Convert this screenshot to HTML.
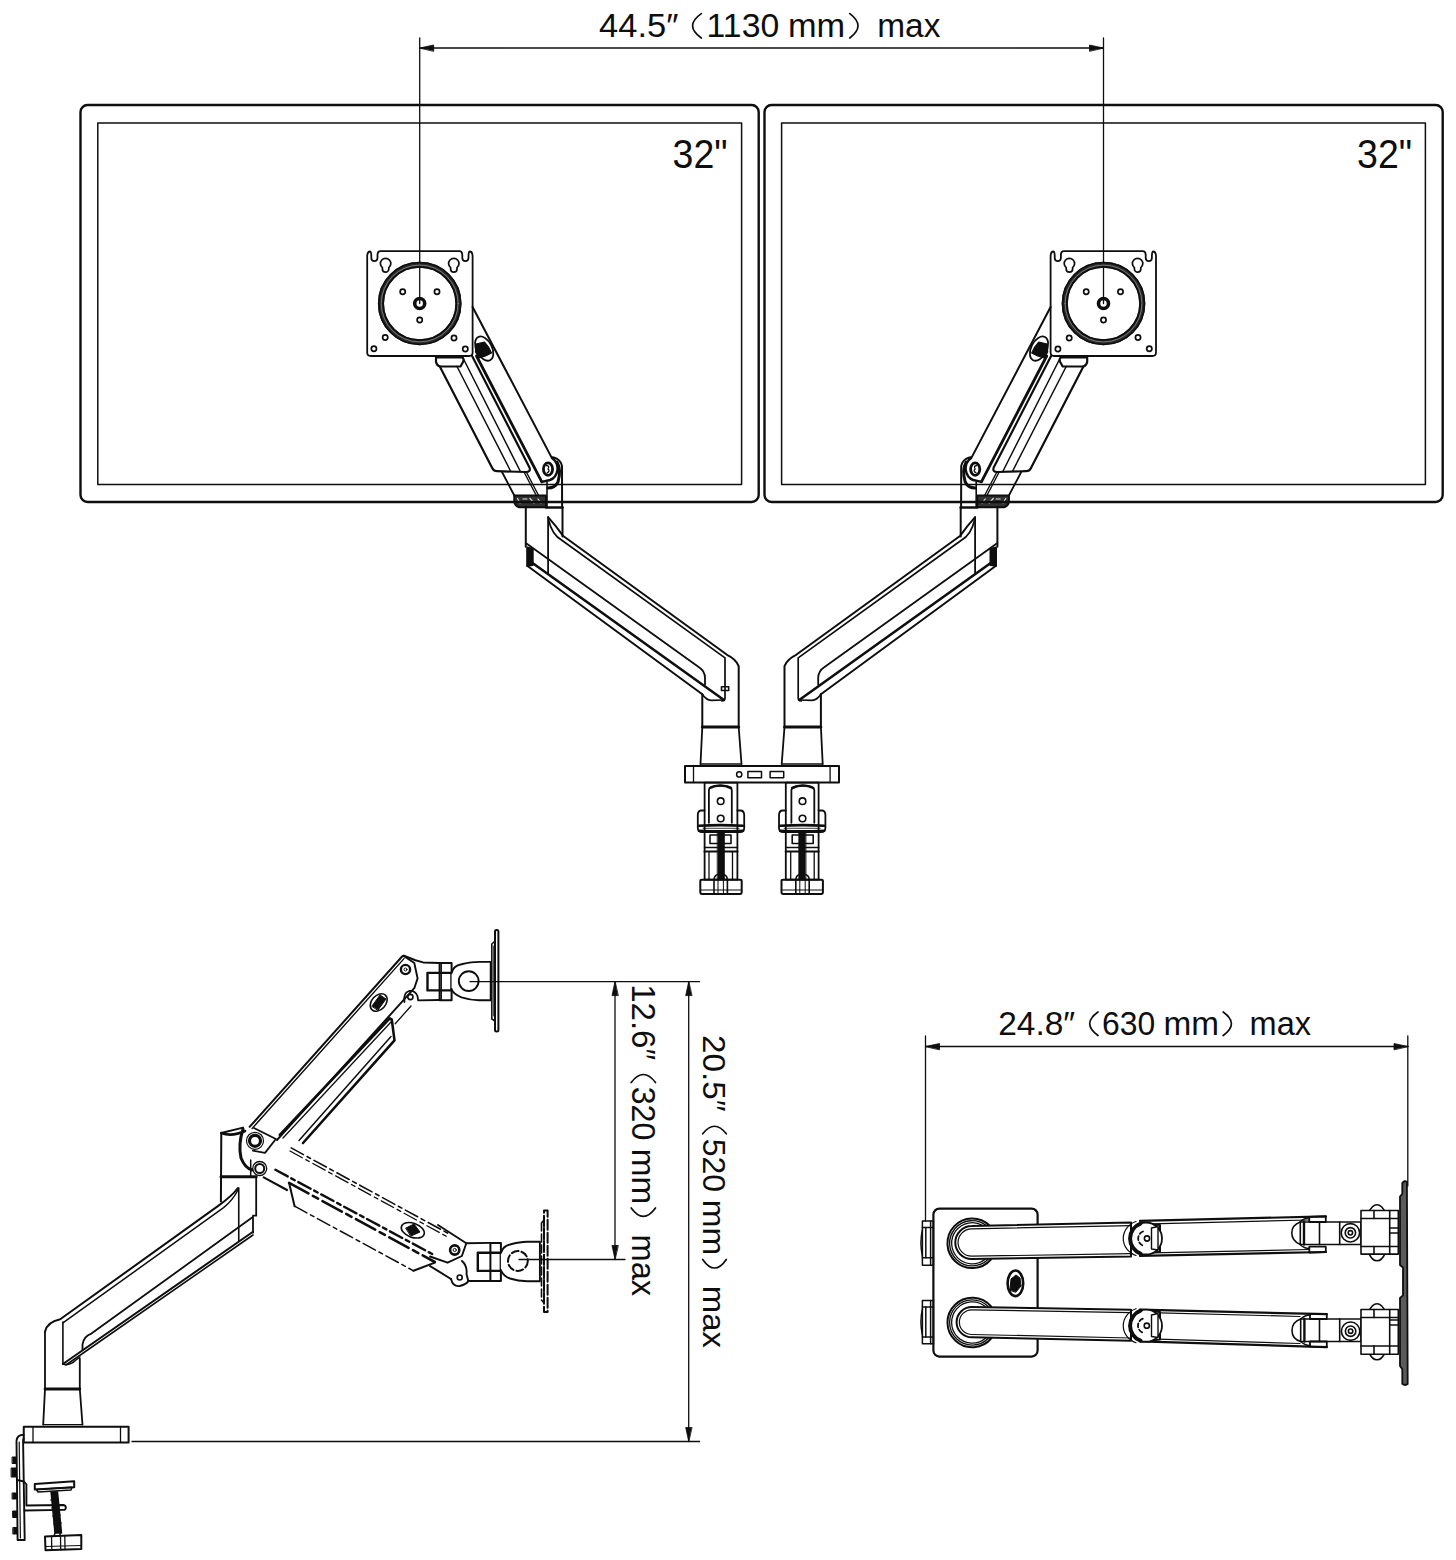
<!DOCTYPE html>
<html><head><meta charset="utf-8">
<style>
html,body{margin:0;padding:0;background:#fff;}
body{width:1456px;height:1560px;overflow:hidden;position:relative;}
svg{position:absolute;left:0;top:0;}
.t{font-family:"Liberation Sans",sans-serif;fill:#0e0e0e;}
</style></head><body>
<svg width="1456" height="1560" viewBox="0 0 1456 1560">
<g fill="none" stroke="#0e0e0e" stroke-linejoin="round" stroke-linecap="round">
<!-- TOP DIM -->
<line x1="419.7" y1="48" x2="1103.5" y2="48" stroke-width="1.3"/>
<path d="M419.7 48 l14 -3 v6 z M1103.5 48 l-14 -3 v6 z" fill="#0e0e0e" stroke-width="0.8"/>
<g id="L">
<line x1="419.7" y1="38" x2="419.7" y2="303.5" stroke-width="1.3"/>
<!-- VESA plate -->
<path d="M367.2 352.5 L367.2 256 Q367.4 251.5 370.2 251.5 Q371.3 252 371.3 256 L371.3 258 Q371.5 261.2 374.4 261.2 Q377.3 261.2 377.5 258 L377.5 254.5 Q377.8 251.2 380.5 251.2 L459.3 251.2 Q462 251.2 462.3 254.5 L462.3 258 Q462.5 261.2 465.4 261.2 Q468.3 261.2 468.5 258 L468.5 256 Q468.5 252 469.6 251.5 Q472.4 251.5 472.6 256 L472.6 352.5 Q472.6 356 469 356 L370.8 356 Q367.2 356 367.2 352.5 Z" stroke-width="1.8"/>
<circle cx="419.7" cy="303.5" r="38.8" stroke="#2a2a2a" stroke-width="6"/>
<circle cx="419.7" cy="303.5" r="41" stroke-width="1.7"/>
<circle cx="419.7" cy="303.5" r="36.6" stroke-width="1.9"/>
<circle cx="419.7" cy="303.5" r="38.4" stroke="#8a8a8a" stroke-width="0.8"/>
<circle cx="419.7" cy="303.5" r="5" stroke-width="3.6"/>
<g stroke-width="1.7">
<circle cx="402.7" cy="291.7" r="2.6"/>
<circle cx="437" cy="291.7" r="2.6"/>
<circle cx="419.7" cy="320" r="2.6"/>
<circle cx="385.2" cy="337.5" r="2.6"/>
<circle cx="454" cy="338" r="2.6"/>
<circle cx="373.9" cy="348.8" r="2.6"/>
<circle cx="465.3" cy="349" r="2.6"/>
<path d="M382.4 267.6 A5.2 5.2 0 1 1 388.8 267.6 L388.8 269 A3.2 3.2 0 0 1 382.4 269 Z"/>
<path d="M450.6 267.6 A5.2 5.2 0 1 1 457 267.6 L457 269 A3.2 3.2 0 0 1 450.6 269 Z"/>
</g>
<!-- upper arm -->
<path d="M436 357.5 L462 357.5 Q464.5 358.5 463 362 L460.5 366.5 L440 366.5 Q437 366 436 362 Z" stroke-width="2.2"/>
<path d="M439.8 366.5 L491.7 467 Q493.5 471.2 497 471.2 L526 472 Q531 472 529.5 467.5 L472.1 356" stroke-width="2.2"/>
<line x1="457" y1="366.5" x2="510.8" y2="471.5" stroke-width="1.5"/>
<line x1="462.5" y1="357" x2="520.4" y2="471.5" stroke-width="1.5"/>
<line x1="476.5" y1="356" x2="541.8" y2="481.8" stroke-width="2.8"/>
<path d="M472.6 307 L551.4 457.1 Q558 458 561 463 L562 466 L562.1 508" stroke-width="2"/>
<path d="M541.8 481.8 L550 480 Q556 478 557.5 470 Q558 462 552 458" stroke-width="2.4"/>
<ellipse cx="548" cy="469.1" rx="4.6" ry="6.2" stroke-width="2.8"/><path d="M546.5 465.5 Q550 466 548 469 Q550.5 471 547 473" stroke-width="1.3"/>
<path d="M557 462 Q561.5 470 558 482 Q555 488 548 488" stroke-width="3"/>
<line x1="547" y1="482" x2="547" y2="507" stroke-width="1.6"/>
<line x1="502" y1="472" x2="514.3" y2="495.5" stroke-width="1.8"/>
<line x1="524" y1="472" x2="536.3" y2="495.5" stroke-width="1.4"/>
<line x1="526.3" y1="472" x2="538.6" y2="495.5" stroke-width="1.4"/>
<path d="M514.3 495.5 L546 495.5 L546 507.2 L519 507.2 Q515 506 514.3 502 Z" fill="#333" stroke-width="2"/><path d="M517.5 498.5 L520 503 M523 499 L527 499 M530 498.5 L534 503 M538 499 L541 503" stroke="#ddd" stroke-width="1.2"/>
<line x1="546" y1="507.5" x2="562.5" y2="507.5" stroke-width="2.6"/>
<ellipse cx="484.2" cy="348.6" rx="7.8" ry="13" transform="rotate(-27 484.2 348.6)" fill="#fff" stroke-width="1.8"/>
<path d="M476 344 L484.5 342 L488.5 347 L491.5 353 L485.5 356 L479 358 L475.5 352 Z" fill="#0e0e0e" stroke-width="1.2"/>
<!-- lower arm -->
<path d="M525.8 507.5 L525.8 546.7" stroke-width="2"/>
<path d="M562.5 507 L562.5 536.4" stroke-width="2"/>
<line x1="548.1" y1="517.2" x2="548.1" y2="572.8" stroke-width="1.8"/>
<path d="M548.1 517.2 Q556 526 562.9 535.7 L727 654.8 Q736 659 738.7 666.1 L738.7 726.5" stroke-width="2"/>
<path d="M548.6 520 Q552 535 562.2 540.5 L725 657.9 L725 698 Q725 701 722 701" stroke-width="1.7"/>
<path d="M526.5 543.5 L699 667.2 Q705 671 705 678 L705 684.6" stroke-width="1.8"/>
<path d="M532.5 563 L723.6 699.8" stroke-width="2.6"/>
<path d="M527.2 565.8 L702.3 694.3" stroke-width="2"/>
<path d="M527.2 547.4 L532.7 549 L532.7 565 L527.2 565.8 Z" fill="#0e0e0e" stroke-width="2"/>
<path d="M702.3 694.3 Q706 700 711.2 700.4 L723.6 700" stroke-width="1.6"/>
<line x1="702.3" y1="694.3" x2="702.3" y2="726.9" stroke-width="2"/>
<line x1="702.3" y1="726.9" x2="738.7" y2="726.9" stroke-width="3"/>
<line x1="702.3" y1="727" x2="700.5" y2="764" stroke-width="1.8"/>
<line x1="738.7" y1="727" x2="741.5" y2="764" stroke-width="1.8"/>
<line x1="700.5" y1="764" x2="741.5" y2="764" stroke-width="1.5"/>
<!-- clamp -->
<rect x="704.6" y="782.6" width="32.8" height="97" stroke-width="1.8"/>
<path d="M708.9 822.8 L708.9 790 Q708.9 785.7 720.3 785.7 Q731.8 785.7 731.8 790 L731.8 822.8" stroke-width="1.8"/>
<path d="M710 788 Q720 783 731 788" stroke-width="2.5"/>
<circle cx="720.7" cy="801.2" r="3.3" stroke-width="1.6"/>
<circle cx="720.7" cy="818.5" r="3.3" stroke-width="1.6"/>
<path d="M704.6 810.5 L701 810.5 Q697.8 811 697.8 815 L697.8 828 Q698 832.1 702 832.1 L740 832.1 Q744.2 832 744.2 828 L744.2 815 Q744 810.5 740.5 810.5 L737.4 810.5" stroke-width="1.8"/>
<path d="M699 825.8 Q720 824.5 743 825.8" stroke-width="2.6"/><path d="M699 830.8 Q720 832 743 830.8" stroke-width="2.6"/><line x1="703" y1="828.3" x2="739" y2="828.3" stroke-width="0.8"/>
<rect x="710" y="835" width="21" height="8.5" stroke-width="1.6"/>
<rect x="717.6" y="832" width="6.8" height="47" fill="#0e0e0e" stroke-width="0.8"/>
<line x1="704.6" y1="847.5" x2="737.4" y2="847.5" stroke-width="1.6"/>
<line x1="704.6" y1="851.5" x2="737.4" y2="851.5" stroke-width="2.2"/>
<line x1="709" y1="852" x2="709" y2="879" stroke-width="1.3"/>
<line x1="732.5" y1="852" x2="732.5" y2="879" stroke-width="1.3"/>
<path d="M700.3 881 Q700.3 879.7 702 879.7 L740 879.7 Q741.7 879.7 741.7 881 L741.7 892 Q741.7 893.9 740 893.9 L702 893.9 Q700.3 893.9 700.3 892 Z" stroke-width="2"/>
<path d="M714 893 L714 880 Q714 874 720.7 874 Q727.4 874 727.4 880 L727.4 893" stroke-width="1.6"/>
<line x1="718" y1="880" x2="718" y2="893" stroke-width="1"/>
<line x1="723.4" y1="880" x2="723.4" y2="893" stroke-width="1"/>
<line x1="701" y1="890" x2="741" y2="890" stroke-width="1"/>
<!-- monitor -->
<rect x="80.5" y="105" width="678.2" height="397" rx="7" stroke-width="2.4"/>
<rect x="97.8" y="123" width="643.8" height="361.5" stroke-width="1.5"/>
</g>
<use href="#L" transform="translate(1523.2,0) scale(-1,1)"/>
<rect x="721.5" y="686.7" width="7.2" height="3.8" stroke-width="1.6"/>
<!-- base plate -->
<rect x="685" y="766" width="154" height="16.6" stroke-width="2"/>
<line x1="693.5" y1="766" x2="693.5" y2="782.6" stroke-width="1.3"/>
<line x1="830.1" y1="766" x2="830.1" y2="782.6" stroke-width="1.3"/>
<circle cx="739.2" cy="774.4" r="2.6" stroke-width="1.5"/>
<rect x="747.9" y="771.5" width="13.6" height="6.2" stroke-width="1.5"/>
<rect x="770.1" y="771.5" width="13.6" height="6.2" stroke-width="1.5"/>

<!-- ================= SIDE VIEW ================= -->
<g id="side">
<!-- base plate -->
<rect x="23.75" y="1426.8" width="104.85" height="15.7" stroke-width="2"/>
<line x1="33" y1="1427" x2="33" y2="1442.5" stroke-width="1.3"/>
<line x1="120.5" y1="1427" x2="120.5" y2="1442.5" stroke-width="1.3"/>
<!-- post -->
<path d="M43.2 1424.6 L45 1389 L45 1331.8" stroke-width="1.8"/>
<path d="M82.5 1424.6 L79.8 1389 L79.8 1358.6" stroke-width="1.8"/>
<line x1="45" y1="1389" x2="79.8" y2="1389" stroke-width="2.8"/>
<line x1="43.2" y1="1424.6" x2="82.5" y2="1424.6" stroke-width="1.3"/>
<!-- lower arm fixed -->
<path d="M45 1331.8 Q47 1322 60.2 1319.3 L218.2 1205.9 Q232 1196 237.9 1188" stroke-width="2"/>
<path d="M62.9 1322.9 L223.6 1207.7 Q233 1200 237.9 1190" stroke-width="1.5"/>
<line x1="62.9" y1="1322" x2="62.9" y2="1364" stroke-width="1.6"/>
<line x1="238.75" y1="1188" x2="238.75" y2="1240.7" stroke-width="1.6"/>
<path d="M82.5 1350 L82.5 1344.3 Q84 1336 91.4 1333.6 L252.1 1217.5" stroke-width="1.8"/>
<path d="M62.9 1364 L253 1231.8" stroke-width="2"/>
<path d="M66 1365 L253 1235" stroke-width="1.6"/>
<path d="M62.9 1364 Q70 1366 76 1360 L80 1357" stroke-width="1.5"/>
<!-- column -->
<path d="M220.9 1201.4 L221.3 1133 L243 1127.6" stroke-width="2"/>
<path d="M221.3 1133 Q232 1137 245 1131" stroke-width="2.6"/>
<line x1="221" y1="1176.8" x2="256.2" y2="1176.8" stroke-width="3"/>
<path d="M256.2 1177 L256.2 1215.7 L253 1215.7 L253 1232.7" stroke-width="1.8"/>
<path d="M250.7 1160 L250.7 1177" stroke-width="1.5"/>
<path d="M243 1129 Q238 1145 241 1158 Q245 1168 252 1170" stroke-width="3"/>
<!-- upper arm -->
<path d="M249.6 1126.8 L402.1 956.5 L404 955.8 L415.4 960.2 L423.1 962.4 L439.6 963" stroke-width="2"/>
<line x1="252" y1="1128.6" x2="404" y2="958.6" stroke-width="1.4"/>
<path d="M254 1128 L275.9 1139 L265 1152.9 L252.9 1150.7" stroke-width="1.8"/>
<path d="M403.3 955.8 L414.3 963 L417.6 978.4 L414.3 988.2 L277 1140" stroke-width="1.9"/>
<circle cx="255" cy="1140.8" r="5.5" stroke-width="3.2"/>
<circle cx="255" cy="1140.8" r="8.5" stroke-width="1.2"/>
<circle cx="259.7" cy="1168.5" r="4.5" stroke-width="2"/>
<circle cx="259.7" cy="1168.5" r="7" stroke-width="1.3"/>
<circle cx="405.5" cy="969.5" r="4.6" stroke-width="2.4"/>
<circle cx="405.5" cy="969.5" r="1.5" stroke-width="1"/>
<path d="M404.5 1002 Q403 993 409 991 Q415 990 417.5 996 L418.1 1000.3 L439.6 1000" stroke-width="1.8"/>
<circle cx="410.4" cy="997" r="2.6" stroke-width="1.6"/>
<line x1="395.2" y1="1023.8" x2="411" y2="1006" stroke-width="1.3"/>
<path d="M279.8 1135 L389.7 1018.3 L391.8 1019.7 L394.5 1040.3 L303 1143" stroke-width="2.6"/>
<line x1="283" y1="1138" x2="391" y2="1022" stroke-width="1.3"/>
<line x1="391" y1="1036.5" x2="299" y2="1140.5" stroke-width="1.5"/>
<ellipse cx="378.7" cy="1002.5" rx="10" ry="7" transform="rotate(-48 378.7 1002.5)" stroke-width="1.6"/>
<path d="M372 1006 L380 995 L386 999 L378 1010 Z" fill="#0e0e0e" stroke-width="1"/>
<!-- upper head -->
<rect x="439.6" y="963" width="12" height="37.3" stroke-width="2"/>
<rect x="427.5" y="972.9" width="24.1" height="17.5" stroke-width="2.4"/>
<line x1="441.2" y1="963" x2="441.2" y2="1000.3" stroke-width="1.5"/>
<path d="M451.6 973 Q453 966 461.5 964.3 Q472 961.9 479 961.9 L490.7 961.9 L490.7 1000.3 L479 1000.3 Q470 1000 461.5 997.3 Q453 994 451.6 989" fill="#fff" stroke-width="1.9"/>
<circle cx="468.7" cy="981.1" r="9.9" stroke-width="1.9"/>
<path d="M491.8 1019 L491.8 944 L495 941 L495 1021 Z" stroke-width="1.5"/>
<rect x="495" y="930" width="3.4" height="101.6" rx="1.5" stroke-width="2"/>
<line x1="493.4" y1="946" x2="493.4" y2="1016" stroke-width="0.8"/>
<!-- lower dashed arm -->
<g stroke-dasharray="14 4 4 4">
<line x1="291.2" y1="1147.9" x2="450" y2="1234.4" stroke-width="1.6"/>
<line x1="290" y1="1151" x2="448" y2="1237.2" stroke-width="1.3"/>
<line x1="275.4" y1="1169.8" x2="434" y2="1255" stroke-width="2.4"/>
<line x1="294.6" y1="1206.2" x2="413.5" y2="1270.8" stroke-width="1.5"/>
</g>
<path d="M289.1 1182.9 L434.8 1262" stroke-width="2.6" stroke-dasharray="22 5 6 5"/>
<path d="M289.1 1182.9 L294.6 1206.2" stroke-width="2"/>
<path d="M413.5 1270.8 L434.8 1262.6" stroke-width="2"/>
<line x1="263.7" y1="1177.4" x2="287" y2="1190" stroke-width="2.2"/>
<path d="M438 1225 L466.3 1243.3 L490.4 1242.9" stroke-width="1.9"/>
<path d="M466.3 1243.3 L461.9 1256 L447.6 1262.7 L430 1256.5" stroke-width="1.9"/>
<line x1="430" y1="1266" x2="451" y2="1279" stroke-width="2"/>
<circle cx="454.7" cy="1250" r="4.6" stroke-width="2.6"/>
<circle cx="454.7" cy="1250" r="1.6" stroke-width="1"/>
<path d="M451 1279 Q453 1287 459.7 1286 Q467 1284 468.3 1281 L490.4 1281" stroke-width="1.9"/>
<path d="M462 1261 Q467.5 1266 466.5 1274 L468.3 1281" stroke-width="1.9"/>
<circle cx="459.7" cy="1277.5" r="2.5" stroke-width="1.6"/>
<ellipse cx="412.8" cy="1230.3" rx="12" ry="7" transform="rotate(20 412.8 1230.3)" stroke-width="1.6"/>
<path d="M406 1228 L414 1224 L420 1232 L411 1236 Z" fill="#0e0e0e" stroke-width="1"/>
<rect x="490.4" y="1242.9" width="10.5" height="38" stroke-width="2"/>
<rect x="477.8" y="1252.7" width="23.1" height="18.2" stroke-width="2.4"/>
<path d="M500.9 1253 Q503 1246 510 1244.5 Q520 1241.8 527 1241.8 L539.9 1241.8 L539.9 1281.3 L527 1281.3 Q518 1281 510 1278.5 Q503 1276 500.9 1270" fill="#fff" stroke-width="1.9"/>
<circle cx="517.9" cy="1261" r="9.9" stroke-width="2" stroke-dasharray="7 3"/>
<path d="M541.5 1223 L541.5 1300 L544 1303 L544 1220 Z" stroke-width="1.6" stroke-dasharray="8 3"/>
<rect x="544" y="1210.4" width="3.6" height="101.6" stroke-width="2" stroke-dasharray="10 3"/>
<!-- clamp -->
<path d="M23.75 1434.8 Q17 1434.8 16.5 1441 L17.6 1540 L24.7 1540 L23.1 1442 Q23.2 1438.3 23.75 1438.3" stroke-width="1.9"/>
<line x1="19.2" y1="1442" x2="20.4" y2="1538" stroke-width="1.2"/>
<g fill="#0e0e0e" stroke-width="1">
<rect x="12.5" y="1457" width="4" height="6.5"/><rect x="11.5" y="1468" width="5" height="9"/>
<rect x="12.5" y="1493" width="4.2" height="6"/><rect x="13" y="1511" width="4.2" height="6.5"/>
<rect x="13.2" y="1527.5" width="4.2" height="6.5"/>
</g>
<path d="M17 1480 L24 1481.5 L26.4 1484.5 L26.4 1505.5 L63.5 1505 Q65.8 1505.5 65.8 1507.5 Q65.8 1510 63.5 1509.9 L24.5 1510.5" stroke-width="1.9"/>
<path d="M51.1 1492 L57.5 1492 L61.5 1533 L55 1533 Z" fill="#0e0e0e" stroke-width="1.5"/>
<path d="M50.5 1500 L58.5 1499 M51.5 1508 L59.5 1507 M52.5 1516 L60.5 1515 M53.5 1524 L61.5 1523" stroke-width="1" stroke="#0e0e0e"/>
<path d="M34.8 1484 L74.2 1481.3 L74.2 1487.2 L34.8 1489.5 Z" stroke-width="2"/>
<path d="M36.5 1489.5 L72 1487.3 L71 1490 L38 1492 Z" stroke-width="1.5"/>
<path d="M55 1533 L54 1536 M60 1533 L60 1536" stroke-width="1.5"/>
<path d="M45 1536.5 L81.3 1535 L81.3 1549 L45.5 1550.2 Z" stroke-width="2"/>
<line x1="51.5" y1="1536" x2="51.8" y2="1550" stroke-width="1.3"/>
<line x1="60.5" y1="1535.8" x2="60.7" y2="1549.8" stroke-width="1.3"/>
<line x1="64.8" y1="1535.6" x2="65" y2="1549.6" stroke-width="1.3"/>
<line x1="45.5" y1="1546.5" x2="81" y2="1545.5" stroke-width="1"/>
<!-- dims -->
<line x1="470" y1="981.6" x2="699.6" y2="981.6" stroke-width="1.3"/>
<line x1="519" y1="1259.5" x2="625" y2="1259.5" stroke-width="1.3"/>
<line x1="132" y1="1441.5" x2="699.6" y2="1441.5" stroke-width="1.3"/>
<line x1="615" y1="981.6" x2="615" y2="1259.5" stroke-width="1.3"/>
<line x1="688.7" y1="981.6" x2="688.7" y2="1441.5" stroke-width="1.3"/>
<path d="M615 981.6 l-3 14 h6 z M615 1259.5 l-3 -14 h6 z M688.7 981.6 l-3 14 h6 z M688.7 1441.5 l-3 -14 h6 z" fill="#0e0e0e" stroke-width="0.8"/>
</g>

<!-- ================= TOP VIEW ================= -->
<g id="topv">
<line x1="925.5" y1="1046.5" x2="1408" y2="1046.5" stroke-width="1.3"/>
<path d="M925.5 1046.5 l14 -3 v6 z M1408 1046.5 l-14 -3 v6 z" fill="#0e0e0e" stroke-width="0.8"/>
<line x1="925.5" y1="1036" x2="925.5" y2="1221.3" stroke-width="1.3"/>
<line x1="1407.8" y1="1036" x2="1407.8" y2="1186" stroke-width="1.3"/>
<rect x="933.4" y="1208.6" width="104.2" height="148" rx="6" stroke-width="2.2"/>
<g stroke-width="1.5">
<rect x="922.4" y="1221" width="11" height="44.2"/>
<line x1="922.4" y1="1227.5" x2="933.4" y2="1227.5"/><line x1="922.4" y1="1257.7" x2="933.4" y2="1257.7"/>
<line x1="925.8" y1="1227.5" x2="925.8" y2="1257.7"/><line x1="930.6" y1="1221" x2="930.6" y2="1265"/>
<path d="M922.4 1230 Q919.5 1243 922.4 1256"/>
<rect x="922.4" y="1300.6" width="11" height="43.2"/>
<line x1="922.4" y1="1307" x2="933.4" y2="1307"/><line x1="922.4" y1="1337" x2="933.4" y2="1337"/>
<line x1="925.8" y1="1307" x2="925.8" y2="1337"/><line x1="930.6" y1="1300.6" x2="930.6" y2="1343.8"/>
<path d="M922.4 1309 Q919.5 1322 922.4 1335"/>
</g>
<ellipse cx="1015.4" cy="1283.3" rx="7.8" ry="12.8" stroke-width="2.6"/>
<path d="M1010 1290 L1011 1279 L1016 1275 L1020 1278 L1021 1286 L1016 1292 Z" fill="#0e0e0e" stroke-width="1"/>
<!-- upper arm -->
<path d="M989.4 1225.5 A24.75 24.75 0 1 0 990.9 1259.5" stroke-width="2.0"/>
<path d="M986.2 1225.5 A22.6 22.6 0 1 0 987.9 1259.5" stroke-width="1.3"/>
<path d="M982.7 1225.5 A20.6 20.6 0 1 0 984.9 1259.5" stroke-width="1.3"/>
<path d="M1131 1222.5 L971.75 1226.1 A16.45 16.45 0 0 0 971.75 1259 L1131 1256.5 Z" fill="#fff" stroke-width="2"/>
<path d="M1131 1225.6 L971.75 1228.8 A13.7 13.7 0 0 0 971.75 1256.2 L1131 1253.6" stroke-width="1.2"/>
<path d="M1140 1220.9 L1325.9 1216.4 L1325.9 1252 L1140 1255.9 Z" fill="#fff" stroke="none"/><path d="M1140 1220.9 L1325.9 1216.4 M1325.9 1252 L1140 1255.9" stroke-width="2.2"/>
<path d="M1151.5 1223.8 L1309 1220 M1151.5 1252.8 L1309 1249.5" stroke-width="1.2"/>
<path d="M1146 1224 L1160 1225 L1160 1251.5 L1146 1253" fill="#fff" stroke-width="2"/>
<circle cx="1146" cy="1238.5" r="16" fill="#fff" stroke-width="1.8"/>
<path d="M1140.5 1223.5 A16 16 0 0 0 1140.5 1253.5" stroke-width="4"/>
<path d="M1136 1221.5 A19 18 0 0 0 1136 1255.5" stroke-width="1.2"/>
<path d="M1151.5 1228 L1158 1226.5 L1158 1250 L1151.5 1249 Z" fill="#fff" stroke-width="1.4"/>
<circle cx="1147" cy="1238.5" r="2.6" stroke-width="1.6"/>
<path d="M1143 1231.5 A7.5 7.5 0 0 0 1143 1245.5" stroke-width="1.8" stroke-dasharray="4 2.5"/>
<!-- upper end piece -->
<g stroke-width="1.6">
<path d="M1309.3 1216.8 L1325.8 1216.4 L1325.8 1222 L1309.3 1222 Z" stroke-width="1.8"/><path d="M1300 1222 Q1304 1218 1309.3 1218" stroke-width="1.3"/>
<path d="M1309.3 1246.7 L1325.8 1246.7 L1325.8 1252.2 L1309.3 1252.6 Z" stroke-width="1.8"/><path d="M1300 1244.5 Q1304 1248.5 1309.3 1248.5" stroke-width="1.3"/>
<path d="M1300.3 1222 Q1291.8 1225 1291.8 1233 Q1291.8 1241 1300.3 1244.5"/>
<rect x="1300.3" y="1222" width="60.7" height="22.5"/>
<line x1="1304" y1="1222" x2="1304" y2="1244.5" stroke-width="2.4"/>
<line x1="1319.5" y1="1222" x2="1319.5" y2="1244.5"/>
<line x1="1339.7" y1="1222" x2="1339.7" y2="1244.5"/>
<circle cx="1350.4" cy="1232.8" r="9.2"/>
<circle cx="1350.4" cy="1232.8" r="5.2"/>
<circle cx="1350.4" cy="1232.8" r="2.2"/>
<ellipse cx="1377" cy="1232.8" rx="12" ry="28"/>
<rect x="1361" y="1210.5" width="37.3" height="43.6" fill="#fff"/>
<line x1="1361" y1="1218.5" x2="1398.3" y2="1218.5"/>
<line x1="1361" y1="1246.5" x2="1398.3" y2="1246.5"/>
<line x1="1374" y1="1210.5" x2="1374" y2="1218.5"/>
<line x1="1374" y1="1246.5" x2="1374" y2="1254.1"/>
<line x1="1389.7" y1="1210.5" x2="1389.7" y2="1254.1"/>
<line x1="1389.7" y1="1228" x2="1398.3" y2="1228"/>
<line x1="1389.7" y1="1233" x2="1398.3" y2="1233"/>
</g>
<!-- lower arm -->
<path d="M991.1 1306.5 A24.75 24.75 0 1 0 991.5 1338" stroke-width="2.0"/>
<path d="M988.2 1306.5 A22.6 22.6 0 1 0 988.6 1338" stroke-width="1.3"/>
<path d="M985.2 1306.5 A20.6 20.6 0 1 0 985.8 1338" stroke-width="1.3"/>
<path d="M1131 1309.8 L971.75 1307 A15.15 15.15 0 0 0 971.75 1337.3 L1131 1340.8 Z" fill="#fff" stroke-width="2"/>
<path d="M1131 1312.6 L971.75 1309.8 A12.35 12.35 0 0 0 971.75 1334.5 L1131 1338" stroke-width="1.2"/>
<path d="M1140 1309.6 L1326.8 1314.2 L1326.8 1347.1 L1140 1341.3 Z" fill="#fff" stroke="none"/><path d="M1140 1309.6 L1326.8 1314.2 M1326.8 1347.1 L1140 1341.3" stroke-width="2.2"/>
<path d="M1150 1312.6 L1300 1316.5 M1150 1338.8 L1300 1343.5" stroke-width="1.2"/>
<path d="M1146 1311 L1160 1312 L1160 1339.5 L1146 1341" fill="#fff" stroke-width="2"/>
<circle cx="1146" cy="1325.7" r="16" fill="#fff" stroke-width="1.8"/>
<path d="M1140.5 1310.7 A16 16 0 0 0 1140.5 1340.7" stroke-width="4"/>
<path d="M1136 1308.7 A19 18 0 0 0 1136 1342.7" stroke-width="1.2"/>
<path d="M1151.5 1315 L1158 1313.5 L1158 1337.5 L1151.5 1336.5 Z" fill="#fff" stroke-width="1.4"/>
<circle cx="1146.8" cy="1325.7" r="2.6" stroke-width="1.6"/>
<path d="M1142.8 1318.7 A7.5 7.5 0 0 0 1142.8 1332.7" stroke-width="1.8" stroke-dasharray="4 2.5"/>
<g stroke-width="1.6">
<path d="M1310 1313.8 L1326.8 1314.2 L1326.8 1319 L1310 1319 Z" stroke-width="1.8"/><path d="M1300.7 1319 Q1305 1315 1310 1315" stroke-width="1.3"/>
<path d="M1310 1341.5 L1326.8 1341.5 L1326.8 1347.1 L1310 1346.6 Z" stroke-width="1.8"/><path d="M1300.7 1341.5 Q1305 1345.5 1310 1345.5" stroke-width="1.3"/>
<path d="M1300.7 1319 Q1292 1322 1292 1330.5 Q1292 1339 1300.7 1341.5"/>
<rect x="1300.7" y="1319" width="60.3" height="22.5"/>
<line x1="1304.4" y1="1319" x2="1304.4" y2="1341.5" stroke-width="2.4"/>
<line x1="1319.5" y1="1319" x2="1319.5" y2="1341.5"/>
<line x1="1339.7" y1="1319" x2="1339.7" y2="1341.5"/>
<circle cx="1350.6" cy="1331.2" r="9.2"/>
<circle cx="1350.6" cy="1331.2" r="5.2"/>
<circle cx="1350.6" cy="1331.2" r="2.2"/>
<ellipse cx="1377" cy="1331.8" rx="12" ry="28"/>
<rect x="1361" y="1309.5" width="37.3" height="44.7" fill="#fff"/>
<line x1="1361" y1="1317.5" x2="1398.3" y2="1317.5"/>
<line x1="1361" y1="1346" x2="1398.3" y2="1346"/>
<line x1="1374" y1="1309.5" x2="1374" y2="1317.5"/>
<line x1="1374" y1="1346" x2="1374" y2="1354.2"/>
<line x1="1389.7" y1="1309.5" x2="1389.7" y2="1354.2"/>
<line x1="1389.7" y1="1320" x2="1398.3" y2="1320"/>
<line x1="1389.7" y1="1325" x2="1398.3" y2="1325"/>
</g>
<!-- plates -->
<path d="M1402.3 1183 Q1404.6 1180 1406.9 1182 L1407.7 1384 Q1405 1386 1402.3 1383.8 L1402.3 1369.2 L1400 1366 L1400 1298 L1403 1295.4 L1403 1267.7 L1400 1265 L1400 1196.5 L1402.3 1193.8 Z" fill="#5a5a5a" stroke-width="1.8"/>
</g>
</g>
<g class="t">
<g font-size="33.4"><text transform="translate(599.07 37.1) scale(1.033 1)" x="0" y="0">44.5″</text>
<text transform="translate(706.57 37.1) scale(1.012 1)" x="0" y="0">1130</text>
<text transform="translate(787.94 37.1) scale(1.027 1)" x="0" y="0">mm</text>
<text transform="translate(877.30 37.1) scale(1.000 1)" x="0" y="0">max</text></g>
<g font-size="32.8"><text transform="translate(998.27 1035) scale(1.019 1)" x="0" y="0">24.8″</text>
<text transform="translate(1102.05 1035) scale(0.971 1)" x="0" y="0">630</text>
<text transform="translate(1163.57 1035) scale(1.016 1)" x="0" y="0">mm</text>
<text transform="translate(1249.51 1035) scale(0.993 1)" x="0" y="0">max</text></g>
<g transform="translate(632 0) rotate(90)"><g font-size="32.3"><text transform="translate(984.14 0) scale(1.024 1)" x="0" y="0">12.6″</text>
<text transform="translate(1086.70 0) scale(0.998 1)" x="0" y="0">320</text>
<text transform="translate(1148.63 0) scale(1.034 1)" x="0" y="0">mm</text>
<text transform="translate(1234.58 0) scale(1.009 1)" x="0" y="0">max</text></g></g>
<g transform="translate(703 0) rotate(90)"><g font-size="32.0"><text transform="translate(1035.04 0) scale(1.038 1)" x="0" y="0">20.5″</text>
<text transform="translate(1138.70 0) scale(0.998 1)" x="0" y="0">520</text>
<text transform="translate(1199.81 0) scale(1.043 1)" x="0" y="0">mm</text>
<text transform="translate(1285.74 0) scale(1.028 1)" x="0" y="0">max</text></g></g>
</g>
<g fill="none" stroke="#0e0e0e" stroke-width="1.7" stroke-linecap="round">
<path d="M701.3 13.6 Q683.9 25.8 701.3 38.0 M849.8 13.6 Q866.2 25.8 849.8 38.0"/>
<path d="M1098.0 1012.0 Q1081.4 1023.8 1098.0 1035.5 M1223.2 1012.0 Q1239.6 1023.8 1223.2 1035.5"/>
<g transform="translate(632 0) rotate(90)"><path d="M1082.5 -23.5 Q1066.5 -11.3 1082.5 0.8 M1207.9 -23.5 Q1224.7 -11.3 1207.9 0.8"/></g>
<g transform="translate(703 0) rotate(90)"><path d="M1133.8 -23.3 Q1118.7 -11.5 1133.8 0.3 M1259.4 -23.3 Q1276.6 -11.5 1259.4 0.3"/></g>
</g>
<text class="t" font-size="40" transform="translate(672.6 167.6) scale(0.937 1)">32"</text>
<text class="t" font-size="40" transform="translate(1357.1 167.6) scale(0.937 1)">32"</text>
</svg>
</body></html>
